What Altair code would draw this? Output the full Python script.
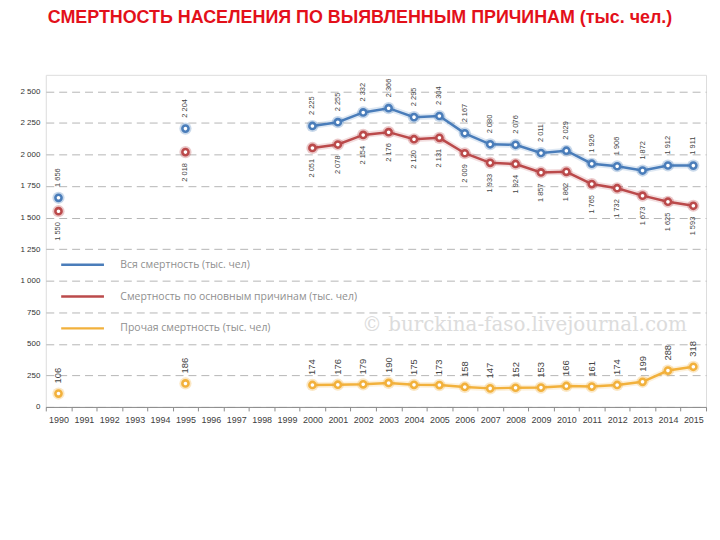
import altair as alt
import pandas as pd

# ---- data ----
all_years = [str(y) for y in range(1990, 2016)]
years = [1990, 1995, 2000, 2001, 2002, 2003, 2004, 2005, 2006, 2007,
         2008, 2009, 2010, 2011, 2012, 2013, 2014, 2015]
total = [1656, 2204, 2225, 2255, 2332, 2366, 2295, 2304, 2167, 2080,
         2076, 2011, 2029, 1926, 1906, 1872, 1912, 1911]
main_causes = [1550, 2018, 2051, 2078, 2154, 2176, 2120, 2131, 2009, 1933,
               1924, 1857, 1862, 1765, 1732, 1673, 1625, 1593]
other = [106, 186, 174, 176, 179, 190, 175, 173, 158, 147,
         152, 153, 166, 161, 174, 199, 288, 318]

series_names = ["Вся смертность (тыс. чел)",
                "Смертность  по основным причинам (тыс. чел)",
                "Прочая смертность (тыс. чел)"]
series_colors = ["#4a7dba", "#bb4a4b", "#f2b13c"]
y_ticks = [0, 250, 500, 750, 1000, 1250, 1500, 1750, 2000, 2250, 2500]
title_text = "СМЕРТНОСТЬ НАСЕЛЕНИЯ ПО ВЫЯВЛЕННЫМ ПРИЧИНАМ (тыс. чел.)"
watermark = ["© burckina-faso.livejournal.com"]

rows = []
for name, vals in zip(series_names, [total, main_causes, other]):
    for y, v in zip(years, vals):
        rows.append({"year": str(y), "yr": y, "value": v, "series": name,
                     "label": f"{v:,}".replace(",", " ")})
df = pd.DataFrame(rows)

x_enc = alt.X("year:O", scale=alt.Scale(type="band", domain=all_years,
                                         paddingInner=0, paddingOuter=0),
              axis=alt.Axis(title=None, labelAngle=0, tickBand="extent",
                            labelFontSize=9, labelColor="#404040",
                            labelFont="Liberation Sans", domainColor="#8c8c8c",
                            tickColor="#8c8c8c", tickSize=4, labelPadding=5,
                            grid=False))
y_enc = alt.Y("value:Q", scale=alt.Scale(domain=[0, 2630], nice=False),
              axis=alt.Axis(title=None, values=y_ticks, grid=True,
                            gridDash=[8, 5], gridColor="#b5b5b5",
                            domain=False, ticks=False, labelFontSize=8,
                            labelColor="#333333", labelFont="Liberation Sans",
                            labelPadding=6, minExtent=33,
                            labelExpr="replace(format(datum.value, ','), ',', ' ')"))
color_scale = alt.Scale(domain=series_names, range=series_colors)

color_enc = alt.Color("series:N", scale=color_scale, title=None)

base = alt.Chart(df).encode(x=x_enc, y=y_enc)

glow_line = base.transform_filter("datum.yr >= 2000").mark_line(
    strokeWidth=6, opacity=0.18).encode(color=color_enc, detail="series:N")

lines = base.transform_filter("datum.yr >= 2000").mark_line(strokeWidth=2.5).encode(
    color=color_enc)

halo = base.mark_point(filled=True, size=150, opacity=0.3).encode(color=color_enc)
pts = base.mark_point(filled=False, fill="white", fillOpacity=1, size=38,
                      strokeWidth=2.6, opacity=1).encode(color=color_enc)

lab_total = base.transform_filter(alt.datum.series == series_names[0]).mark_text(
    angle=270, align="left", baseline="middle", dx=11, fontSize=7.5,
    color="#444444", font="Liberation Sans").encode(text="label:N")
lab_main = base.transform_filter(alt.datum.series == series_names[1]).mark_text(
    angle=270, align="right", baseline="middle", dx=-11, fontSize=7.5,
    color="#444444", font="Liberation Sans").encode(text="label:N")
lab_other = base.transform_filter(alt.datum.series == series_names[2]).mark_text(
    angle=270, align="left", baseline="middle", dx=10, fontSize=9.5,
    color="#444444", font="Liberation Sans").encode(text="label:N")

wm = alt.Chart(pd.DataFrame({"t": watermark})).mark_text(
    align="left", baseline="alphabetic", fontSize=20, font="DejaVu Serif",
    color="#dcdcdc").encode(text="t:N", x=alt.value(318), y=alt.value(258))

chart = alt.layer(wm, glow_line, lines, halo, pts, lab_total, lab_main, lab_other).properties(
    width=664, height=334,
    padding={"left": 5, "top": 0, "right": 5, "bottom": 5},
    title=alt.TitleParams(text=title_text, color="#e3101a",
                          font="Liberation Sans",
                          fontSize=18, fontWeight="bold", anchor="middle",
                          dx=-16, offset=48),
).configure_view(fill="#f1f1f1", stroke=None).configure(
    background="white"
).configure_legend(
    orient="none", legendX=14, legendY=185, symbolType="stroke",
    symbolSize=1850, symbolStrokeWidth=2.5, symbolOpacity=1,
    labelFontSize=10.5, labelColor="#8f8f8f", labelFont="Open Sans",
    labelOffset=15, clipHeight=12, rowPadding=20, labelLimit=400
)

chart.save("out.html", embed_options={"renderer": "svg", "actions": False})
